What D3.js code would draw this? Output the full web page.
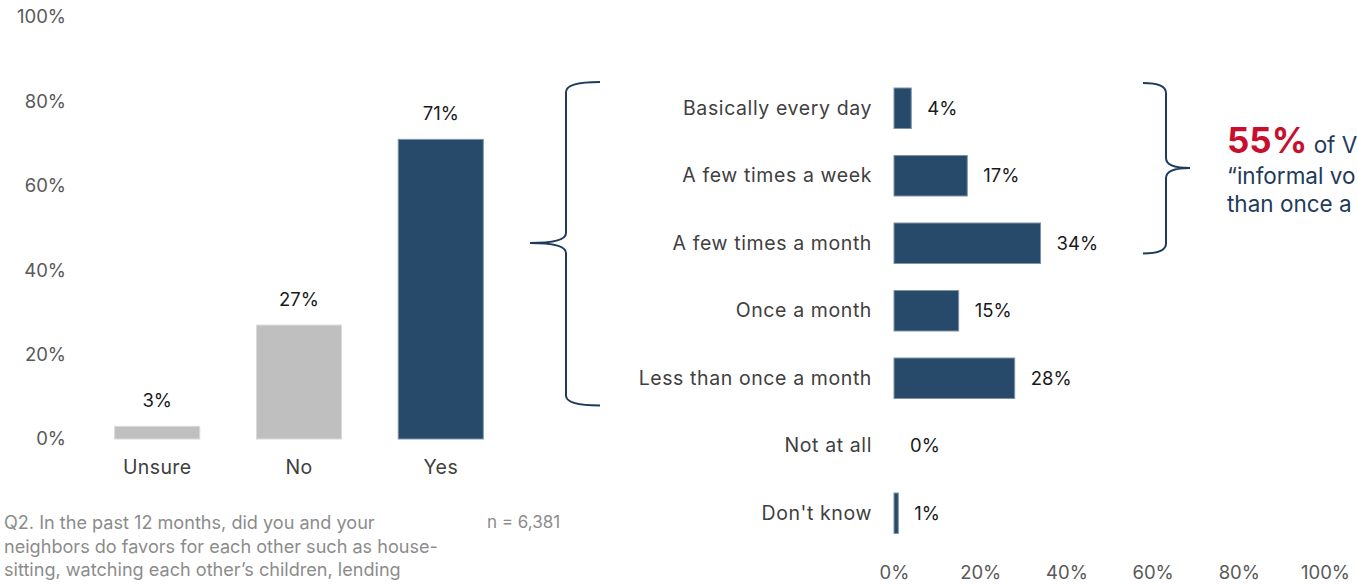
<!DOCTYPE html>
<html>
<head>
<meta charset="utf-8">
<script src="https://cdn.jsdelivr.net/npm/d3@7"></script>
<style>
  body { margin: 0; background: #fff; }
  svg { display: block; font-family: Inter, "Noto Sans", sans-serif; }
</style>
</head>
<body>
<div id="chart"></div>
<script>
// left chart: did you do favors?
const answerCats = ['Unsure', 'No', 'Yes'];
const answerVals = [0.03, 0.27, 0.71];
const answerTicks = [0, 0.2, 0.4, 0.6, 0.8, 1];

// right chart: how often
const freqCats = ['Basically every day', 'A few times a week', 'A few times a month',
    'Once a month', 'Less than once a month', 'Not at all', "Don't know"];
const freqVals = [0.04, 0.17, 0.34, 0.15, 0.28, 0.00, 0.01];
const freqTicks = [0, 0.2, 0.4, 0.6, 0.8, 1];

const footnote = ['Q2. In the past 12 months, did you and your',
    'neighbors do favors for each other such as house-',
    'sitting, watching each other\u2019s children, lending'];

const W = 1357, H = 585;
const navy = '#27496a';
const navyEdge = '#7d93aa';
const grey = '#bfbfbf';
const fmt = d3.format('.0%');

const svg = d3.select('#chart').append('svg')
    .attr('width', W)
    .attr('height', H);

// ---------- left column chart ----------
let y = d3.scaleLinear().domain([0, 1]).range([439, 17]);
let x = d3.scaleBand().domain(answerCats).range([58, 540]).padding(0.4);

let yAxis = svg.append('g')
    .attr('transform', 'translate(66,0)')
    .call(d3.axisLeft(y).tickValues(answerTicks).tickFormat(fmt).tickSize(0).tickPadding(0));
yAxis.select('.domain').remove();
yAxis.selectAll('text')
    .attr('font-size', '18.5px')
    .attr('fill', '#595959')
    .attr('font-family', 'Inter, sans-serif');

let xAxis = svg.append('g')
    .attr('transform', 'translate(0,439)')
    .call(d3.axisBottom(x).tickSize(0).tickPadding(21));
xAxis.select('.domain').remove();
xAxis.selectAll('text')
    .attr('font-size', '19.5px')
    .attr('letter-spacing', '0.4px')
    .attr('fill', '#404040')
    .attr('font-family', 'Inter, sans-serif');

const leftData = answerCats.map((c, i) => ({ cat: c, value: answerVals[i] }));
svg.selectAll('rect.col')
    .data(leftData)
    .join('rect')
    .attr('class', 'col')
    .attr('x', d => x(d.cat))
    .attr('y', d => y(d.value))
    .attr('width', x.bandwidth())
    .attr('height', d => y(0) - y(d.value))
    .attr('fill', d => d.cat === 'Yes' ? navy : grey)
    .attr('stroke', d => d.cat === 'Yes' ? navyEdge : '#d9d9d9')
    .attr('stroke-width', 1);

svg.selectAll('text.colLabel')
    .data(leftData)
    .join('text')
    .attr('class', 'colLabel')
    .attr('x', d => x(d.cat) + x.bandwidth() / 2)
    .attr('y', d => y(d.value) - 19)
    .attr('text-anchor', 'middle')
    .attr('font-size', '18.5px')
    .attr('fill', '#1a1a1a')
    .text(d => fmt(d.value));

// ---------- right bar chart ----------
let fx = d3.scaleLinear().domain([0, 1]).range([894, 1325]);
let fy = d3.scaleBand().domain(freqCats).range([61, 560.5]).padding(0.4);

let fyAxis = svg.append('g')
    .attr('transform', 'translate(872,0)')
    .call(d3.axisLeft(fy).tickSize(0).tickPadding(0));
fyAxis.select('.domain').remove();
fyAxis.selectAll('text')
    .attr('font-size', '19.5px')
    .attr('letter-spacing', '0.6px')
    .attr('fill', '#404040')
    .attr('font-family', 'Inter, sans-serif');

let fxAxis = svg.append('g')
    .attr('transform', 'translate(0,573)')
    .call(d3.axisBottom(fx).tickValues(freqTicks).tickFormat(fmt).tickSize(0).tickPadding(0));
fxAxis.select('.domain').remove();
fxAxis.selectAll('text')
    .attr('dy', '0.35em')
    .attr('font-size', '18.5px')
    .attr('fill', '#595959')
    .attr('font-family', 'Inter, sans-serif');

const rightData = freqCats.map((c, i) => ({ cat: c, value: freqVals[i] }));
svg.selectAll('rect.bar')
    .data(rightData.filter(d => d.value > 0))
    .join('rect')
    .attr('class', 'bar')
    .attr('x', fx(0))
    .attr('y', d => fy(d.cat))
    .attr('width', d => Math.max(fx(d.value) - fx(0), 2))
    .attr('height', fy.bandwidth())
    .attr('fill', navy)
    .attr('stroke', navyEdge)
    .attr('stroke-width', 1);

svg.selectAll('text.barLabel')
    .data(rightData)
    .join('text')
    .attr('class', 'barLabel')
    .attr('x', d => fx(d.value) + 16)
    .attr('y', d => fy(d.cat) + fy.bandwidth() / 2)
    .attr('dy', '0.35em')
    .attr('font-size', '18.5px')
    .attr('fill', '#1a1a1a')
    .text(d => fmt(d.value));

// ---------- braces ----------
function brace(xTip, xMid, xEnd, yTop, yBot, yTip) {
    // curly brace, tip pointing toward xTip
    const r = 10;
    return `M${xEnd},${yTop} Q${xMid},${yTop} ${xMid},${yTop + r}` +
        ` L${xMid},${yTip - r} Q${xMid},${yTip} ${xTip},${yTip}` +
        ` Q${xMid},${yTip} ${xMid},${yTip + r}` +
        ` L${xMid},${yBot - r} Q${xMid},${yBot} ${xEnd},${yBot}`;
}
const bw = fy.bandwidth();
// left brace spanning the yes-answer rows
svg.append('path')
    .attr('d', brace(530, 566, 600, fy(freqCats[0]) - 6, fy(freqCats[4]) + bw + 7, 243))
    .attr('fill', 'none')
    .attr('stroke', '#1f3b5c')
    .attr('stroke-width', 2);
// right brace around the first three rows
svg.append('path')
    .attr('d', brace(1190, 1166, 1143, fy(freqCats[0]) - 5, fy(freqCats[2]) + bw - 10, 168))
    .attr('fill', 'none')
    .attr('stroke', '#1f3b5c')
    .attr('stroke-width', 2);

// ---------- annotation (runs off the right edge, as in the source slide) ----------
let note = svg.append('text')
    .attr('x', 1227)
    .attr('y', 153)
    .attr('fill', '#1f3b5c')
    .attr('font-size', '22.5px');
note.append('tspan')
    .attr('font-size', '35px')
    .attr('font-weight', 'bold')
    .attr('fill', '#c8102e')
    .text('55%');
note.append('tspan').text(' of Virginians did');
svg.append('text')
    .attr('x', 1227).attr('y', 184)
    .attr('fill', '#1f3b5c').attr('font-size', '22.5px')
    .text('\u201cinformal volunteering\u201d more');
svg.append('text')
    .attr('x', 1227).attr('y', 212)
    .attr('fill', '#1f3b5c').attr('font-size', '22.5px')
    .text('than once a month');

// ---------- footnote ----------
svg.append('g')
    .selectAll('text')
    .data(footnote)
    .join('text')
    .attr('x', 4)
    .attr('y', (d, i) => 529 + i * 23.5)
    .attr('font-size', '18.1px')
    .attr('fill', '#8c8c8c')
    .text(d => d);

svg.append('text')
    .attr('x', 487)
    .attr('y', 528)
    .attr('font-size', '17px')
    .attr('fill', '#8c8c8c')
    .text('n = 6,381');
</script>
</body>
</html>
